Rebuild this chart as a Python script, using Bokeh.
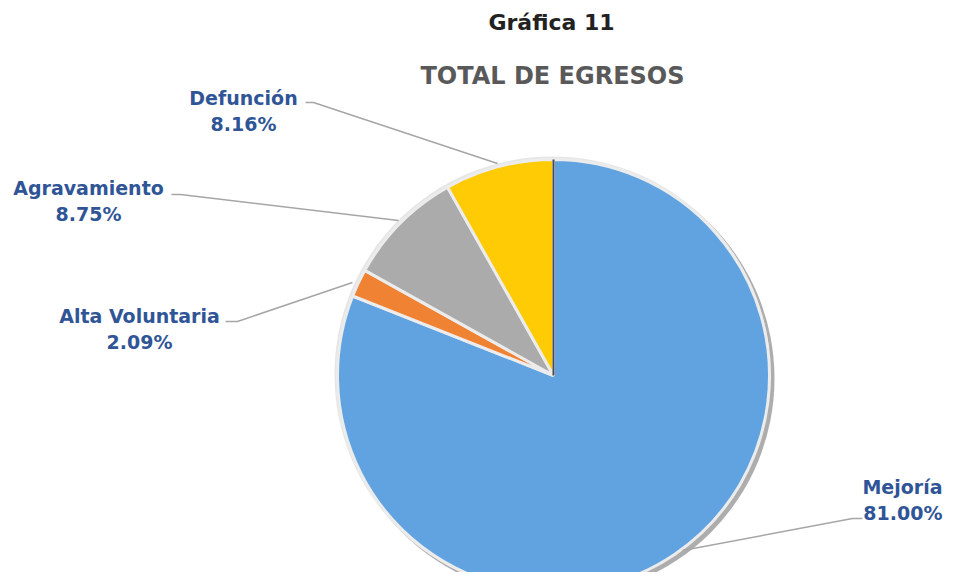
import math
from bokeh.plotting import figure
from bokeh.models import Range1d, ColumnDataSource
from bokeh.core.properties import value
from bokeh.embed import file_html
from bokeh.resources import INLINE

# ---- data ----
categories = ["Mejoría", "Alta Voluntaria", "Agravamiento", "Defunción"]
percentages = [81.00, 2.09, 8.75, 8.16]
colors = ["#60A3E0", "#F08234", "#ABABAB", "#FFCB05"]

title_text = "Gráfica 11"
subtitle_text = "TOTAL DE EGRESOS"

# ---- layout (screen-like coordinates: x to the right, y = 588 - screen Y) ----
W, H = 946, 572
cx, cy, r = 553, 588 - 375, 216

# (x, y, align)
label_pos = {
    "Mejoría": (942, 588 - 499, "right"),
    "Alta Voluntaria": (139, 588 - 328, "center"),
    "Agravamiento": (88, 588 - 200, "center"),
    "Defunción": (243, 588 - 110, "center"),
}
leader = {
    "Mejoría": [(862, 518), (852, 518), (682, 550)],
    "Alta Voluntaria": [(225, 321), (237, 321), (352, 282)],
    "Agravamiento": [(171, 194), (180, 194), (398, 220)],
    "Defunción": [(305, 102), (313, 102), (497, 163)],
}

p = figure(width=W, height=H, output_backend="svg", toolbar_location=None,
           x_range=Range1d(0, W), y_range=Range1d(588 - H, 588),
           min_border=0, outline_line_color=None, background_fill_color="white")
p.axis.visible = False
p.grid.visible = False

total = sum(percentages)
starts, ends = [], []
cum = 0.0
for v in percentages:
    a0 = math.pi / 2 - cum / total * 2 * math.pi
    cum += v
    a1 = math.pi / 2 - cum / total * 2 * math.pi
    starts.append(a0)
    ends.append(a1)

src = ColumnDataSource(dict(cat=categories, val=percentages, color=colors,
                            start=starts, end=ends,
                            x=[cx] * len(categories), y=[cy] * len(categories)))

# shadow and rim
p.circle(x=cx + 3, y=cy - 3, radius=r + 2, fill_color="#6a6a6a", fill_alpha=0.55, line_color=None)
p.circle(x=cx - 1, y=cy + 1, radius=r + 2, fill_color="#e6e6e6", line_color=None)

p.wedge(x="x", y="y", radius=r, start_angle="end", end_angle="start",
        fill_color="color", line_color="#ececec", line_width=3, source=src)

p.segment(x0=cx, y0=cy, x1=cx, y1=cy + r, line_color="#4a4a4a", line_width=2)

for c in categories:
    pts = leader[c]
    p.line(x=[q[0] for q in pts], y=[588 - q[1] for q in pts], line_color="#a6a6a6", line_width=1.5)

for c, v in zip(categories, percentages):
    x, y, al = label_pos[c]
    for txt, yy in ((c, y + 13), (f"{v:.2f}%", y - 13)):
        p.text(x=[x], y=[yy], text=[txt], text_align=al, text_baseline="middle",
               text_font=value("DejaVu Sans"), text_font_style="bold", text_font_size="19px",
               text_color="#2F5597")

p.text(x=[551], y=[588 - 22], text=[title_text], text_align="center", text_baseline="middle",
       text_font=value("DejaVu Sans"), text_font_style="bold", text_font_size="22px",
       text_color="#222222")
p.text(x=[552], y=[588 - 75], text=[subtitle_text], text_align="center", text_baseline="middle",
       text_font=value("DejaVu Sans"), text_font_style="bold", text_font_size="24px",
       text_color="#595959")

open("out.html", "w").write(file_html(p, INLINE))
